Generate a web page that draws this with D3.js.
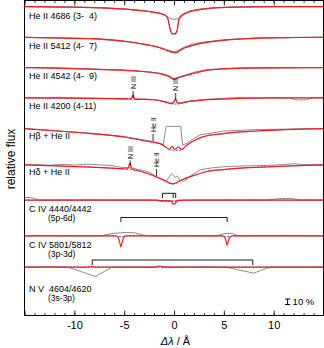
<!DOCTYPE html>
<html>
<head>
<meta charset="utf-8">
<script src="https://cdn.jsdelivr.net/npm/d3@7"></script>
<style>
  body { margin: 0; background: #fff; }
  svg text { font-family: "Liberation Sans", Arial, sans-serif; fill: #000; }
</style>
</head>
<body>
<svg id="chart" width="324" height="348"></svg>
<script>
// x ticks (delta lambda in Angstrom)
const majorTicks = [-15, -10, -5, 0, 5, 10, 15];
const minorTicks = d3.range(-15, 16, 1);

// row labels, top to bottom
const rowLabels = ["He II 4686 (3-  4)", "He II 5412 (4-  7)", "He II 4542 (4-  9)", "He II 4200 (4-11)",
  "H\u03b2 + He II", "H\u03b4 + He II", "C IV 4440/4442", "C IV 5801/5812", "N V  4604/4620"];
const rowSubLabels = ["", "", "", "", "", "", "(5p-6d)", "(3p-3d)", "(3s-3p)"];
// vertical shift of each spectrum (in flux units)
const rowOffsets = [4.62, 4.06, 3.51, 2.96, 2.40, 1.74, 1.10, 0.45, -0.12];

// observed (grey), model (red), second model (blue dashed) -- [dlambda, relative flux]
const obs1 = [[-15,1],[-11,0.992],[-8,0.985],[-5,0.96],[-2.4,0.91],[-1.2,0.87],[-0.7,0.82],[-0.4,0.785],[0,0.765],[0.5,0.78],[1.0,0.85],[1.5,0.92],[2.6,0.955],[4,0.98],[7,0.995],[10,1.0],[15,1]];
const fit1 = [[-15,1],[-11,0.99],[-8.4,0.982],[-5.4,0.958],[-2.4,0.905],[-1.3,0.87],[-0.9,0.845],[-0.6,0.77],[-0.4,0.6],[-0.25,0.52],[0,0.505],[0.2,0.52],[0.35,0.6],[0.5,0.77],[0.8,0.845],[1.6,0.905],[3.6,0.967],[6.6,0.99],[10,0.998],[15,1]];
const alt1 = [[-15,1],[-11,0.99],[-8.4,0.982],[-5.4,0.958],[-2.4,0.905],[-1.3,0.87],[-0.9,0.845],[-0.6,0.76],[-0.4,0.58],[-0.25,0.5],[0,0.49],[0.2,0.5],[0.35,0.58],[0.5,0.76],[0.8,0.845],[1.6,0.905],[3.6,0.967],[6.6,0.99],[10,0.998],[15,1]];

const obs2 = [[-15,1],[-12,0.99],[-8.4,0.978],[-4.4,0.915],[-1.7,0.83],[-0.8,0.78],[-0.3,0.75],[0.2,0.745],[0.9,0.81],[1.7,0.87],[2.6,0.905],[4.9,0.955],[8.6,0.99],[15,1]];
const fit2 = [[-15,1],[-12,0.99],[-8.4,0.976],[-6,0.95],[-4.4,0.915],[-3,0.875],[-1.7,0.824],[-0.8,0.77],[-0.2,0.733],[0.1,0.722],[0.5,0.75],[0.9,0.795],[1.7,0.845],[2.6,0.885],[4.9,0.945],[8.6,0.987],[12,0.997],[15,1]];
const alt2 = [[-15,1],[-12,0.99],[-8.4,0.976],[-6,0.95],[-4.4,0.915],[-3,0.875],[-1.7,0.824],[-0.8,0.765],[-0.4,0.728],[0,0.72],[0.4,0.728],[0.9,0.79],[1.7,0.845],[2.6,0.885],[4.9,0.945],[8.6,0.987],[12,0.997],[15,1]];

const obs3 = [[-15,1],[-12,0.995],[-8.3,0.975],[-4,0.945],[-1.4,0.895],[-0.5,0.845],[0,0.8],[0.5,0.83],[1.3,0.875],[2.2,0.925],[3.3,0.96],[5,0.98],[7,0.995],[15,1]];
const fit3 = [[-15,1],[-12,0.99],[-8.3,0.97],[-4,0.94],[-1.4,0.89],[-0.5,0.84],[0,0.787],[0.5,0.82],[1.3,0.86],[2.2,0.905],[3.3,0.95],[5,0.975],[7,0.99],[15,1]];
const alt3 = [[-15,1],[-12,0.99],[-8.3,0.97],[-4,0.94],[-1.4,0.89],[-0.5,0.835],[0,0.78],[0.5,0.815],[1.3,0.86],[2.2,0.905],[3.3,0.95],[5,0.975],[7,0.99],[15,1]];

const obs4 = [[-15,1.005],[-13,0.995],[-11.5,1.01],[-10,0.995],[-8,0.99],[-6,0.985],[-4.3,0.98],[-4.1,1.02],[-3.9,0.98],[-2,0.97],[-0.8,0.925],[-0.3,0.9],[0.15,0.96],[0.5,0.905],[1.3,0.935],[3,0.97],[5,0.99],[6.5,1.005],[8,0.995],[10,1.0],[11.6,0.995],[12.4,0.96],[13.3,0.965],[14,1.0],[15,1]];
const fit4 = [[-15,1],[-11,0.995],[-8,0.99],[-5,0.98],[-4.3,0.978],[-4.12,1.05],[-3.95,0.976],[-2,0.965],[-0.8,0.92],[-0.3,0.895],[-0.05,0.905],[0.15,0.985],[0.35,0.905],[0.6,0.9],[1.3,0.925],[3,0.96],[6,0.985],[10,0.997],[15,1]];
const alt4 = [[-15,1],[-11,0.995],[-8,0.99],[-5,0.98],[-2,0.965],[-0.8,0.92],[-0.3,0.89],[0.15,0.885],[0.6,0.89],[1.3,0.925],[3,0.96],[6,0.985],[10,0.997],[15,1]];

const obs5 = [[-15,1],[-11.7,0.958],[-8.3,0.915],[-5,0.855],[-2.3,0.77],[-1.35,0.72],[-1.07,0.70],[-0.8,1.04],[0.67,1.04],[0.87,0.70],[1.3,0.735],[2,0.82],[2.6,0.885],[5,0.955],[8.3,0.982],[15,1]];
const fit5 = [[-15,1],[-11.7,0.956],[-8.3,0.909],[-5,0.847],[-2.3,0.756],[-1.4,0.727],[-0.8,0.66],[-0.45,0.622],[-0.2,0.675],[0.1,0.622],[0.43,0.665],[0.77,0.622],[1.3,0.7],[2,0.78],[2.8,0.845],[5,0.91],[8.3,0.956],[15,1]];
const alt5 = [[-15,1],[-11.7,0.956],[-8.3,0.909],[-5,0.847],[-2.3,0.756],[-1.4,0.727],[-0.8,0.66],[-0.45,0.615],[0,0.605],[0.45,0.605],[0.8,0.615],[1.3,0.7],[2,0.78],[2.8,0.845],[5,0.91],[8.3,0.956],[15,1]];

const obs6 = [[-15,1],[-14,1.005],[-12.5,0.995],[-11,1.01],[-10,0.995],[-8.7,1.012],[-7.5,1.0],[-6.3,0.99],[-5.3,0.955],[-4.4,0.95],[-3,0.895],[-2.3,0.85],[-1.7,0.78],[-0.8,0.70],[-0.25,0.84],[0.1,0.77],[0.3,0.8],[0.6,0.72],[1.0,0.70],[1.6,0.79],[2.6,0.91],[4,0.95],[5.3,0.97],[8,0.985],[10,0.995],[12,1.02],[13,1.005],[15,1]];
const fit6 = [[-15,1],[-11.7,0.98],[-8.3,0.96],[-5.3,0.93],[-4.65,0.925],[-4.42,1.03],[-4.2,0.92],[-3.3,0.88],[-2.3,0.82],[-1.0,0.72],[-0.1,0.655],[0.7,0.72],[1.7,0.79],[3.3,0.88],[5,0.915],[6.7,0.94],[11.7,0.98],[15,1]];
const alt6 = [[-15,1],[-11.7,0.98],[-8.3,0.96],[-5.3,0.93],[-4.4,0.922],[-3.3,0.88],[-2.3,0.82],[-1.0,0.72],[-0.1,0.65],[0.7,0.72],[1.7,0.79],[3.3,0.88],[5,0.915],[6.7,0.94],[11.7,0.98],[15,1]];

const obs7 = [[-15,1.05],[-14.2,1.04],[-13.6,1.0],[-10,1.0],[-5,1.0],[-1.5,0.995],[0,0.985],[1.5,0.995],[5,1.0],[9.3,1.0],[10.5,1.025],[11.8,1.03],[12.5,1.0],[15,1]];
const fit7 = [[-15,1],[-2,1],[-1.3,0.99],[-0.6,0.985],[-0.3,0.985],[-0.1,0.93],[0.1,0.93],[0.3,0.99],[1,1],[15,1]];
const alt7 = [[-15,1],[-1.8,1],[-1.4,0.975],[0.2,0.975],[0.5,1],[15,1]];

const obs8 = [[-15,1],[-13,1.003],[-10,0.997],[-7.3,1.0],[-6.3,1.04],[-5,1.06],[-4,1.055],[-3,1.01],[-2.5,1.0],[0,0.998],[4.3,1.0],[5,1.04],[5.8,1.045],[6.5,1.0],[10,1.003],[15,1]];
const fit8 = [[-15,1],[-5.85,1],[-5.6,0.97],[-5.45,0.88],[-5.33,0.8],[-5.2,0.88],[-5.05,0.97],[-4.8,1],[4.85,1],[5.1,0.97],[5.22,0.9],[5.33,0.83],[5.45,0.9],[5.6,0.97],[5.85,1],[15,1]];
const alt8 = [[-15,1],[-6,1],[-5.7,0.985],[-5.0,0.985],[-4.7,1],[4.9,1],[5.1,0.985],[5.7,0.985],[6.0,1],[15,1]];

const obs9 = [[-15,1],[-13,1.005],[-10.8,1.0],[-10.3,0.98],[-7.9,0.83],[-6.7,0.95],[-6.2,1.0],[-2,1.0],[-1.4,1.01],[0,0.997],[2,1.003],[5.2,1.0],[5.7,0.98],[8,0.89],[9.3,0.98],[9.8,1],[15,1]];
const fit9 = [[-15,1],[-8.7,1],[-8.3,1.012],[-7.9,1],[-1.9,1],[-1.45,1.02],[-1.0,1],[15,1]];
const alt9 = [[-15,1],[15,1]];

const observed = [obs1, obs2, obs3, obs4, obs5, obs6, obs7, obs8, obs9];
const models = [fit1, fit2, fit3, fit4, fit5, fit6, fit7, fit8, fit9];
const altModels = [alt1, alt2, alt3, alt4, alt5, alt6, alt7, alt8, alt9];

// line identifications: text, dlambda
const idTexts = ["N III", "N III", "He II", "N III", "He II"];
const idLambda = [-4.1, 0.17, -2.1, -4.4, -1.75];
// doublet brackets: leg positions in dlambda
const brackets = [[-1.15, -0.08, 0.17], [-5.33, 5.33], [-8.2, 7.9]];

// ---- layout ----
const svg = d3.select("#chart");
const x = d3.scaleLinear().domain([-15, 15]).range([24.5, 323.5]);
const y = d3.scaleLinear().domain([0, 5.73]).range([315.5, 0.5]);

const labelY = [19, 48.7, 78.7, 109, 138.7, 175.3, 211.5, 247.5, 292];
const subLabelY = [0, 0, 0, 0, 0, 0, 220.5, 256.5, 301];
const idBottom = [89, 91, 132, 159, 167];
const idDash = [[91, 98], [93, 99.5], [134, 141], [160.5, 166], [169, 176]];
const bracketY = [[193.3, 198], [217.5, 222], [260, 265]];

const plot = svg.append("g");
plot.append("clipPath").attr("id", "clip")
  .append("rect").attr("x", 24.5).attr("y", 0.5).attr("width", 299).attr("height", 315);

const lineFor = (off, curve) => d3.line()
  .x(d => x(d[0]))
  .y(d => y(d[1] + off))
  .curve(curve);

const spectra = plot.append("g").attr("clip-path", "url(#clip)");
observed.forEach((s, i) => {
  spectra.append("path").datum(s)
    .attr("d", lineFor(rowOffsets[i], d3.curveLinear))
    .attr("fill", "none").attr("stroke", "#6e6e6e").attr("stroke-width", 0.8);
});
altModels.forEach((s, i) => {
  spectra.append("path").datum(s)
    .attr("d", lineFor(rowOffsets[i], d3.curveMonotoneX))
    .attr("fill", "none").attr("stroke", "#4060ff").attr("stroke-width", 1)
    .attr("stroke-dasharray", "2,1.5");
});
models.forEach((s, i) => {
  spectra.append("path").datum(s)
    .attr("d", lineFor(rowOffsets[i], d3.curveMonotoneX))
    .attr("fill", "none").attr("stroke", "#ff1a1a").attr("stroke-width", 1.2);
});

// row labels
rowLabels.forEach((t, i) => {
  svg.append("text").attr("x", 29).attr("y", labelY[i])
    .attr("font-size", 9).style("white-space", "pre").text(t);
  if (rowSubLabels[i]) {
    svg.append("text").attr("x", 48).attr("y", subLabelY[i])
      .attr("font-size", 8.5).text(rowSubLabels[i]);
  }
});

// line identifications
idTexts.forEach((t, i) => {
  const xi = x(idLambda[i]);
  svg.append("text")
    .attr("transform", `translate(${xi},${idBottom[i]}) rotate(-90)`)
    .attr("dy", "0.35em").attr("font-size", 7).text(t);
  svg.append("line")
    .attr("x1", xi).attr("x2", xi).attr("y1", idDash[i][0]).attr("y2", idDash[i][1])
    .attr("stroke", "#000").attr("stroke-width", 0.8);
});

// brackets
brackets.forEach((b, i) => {
  const g = svg.append("g").attr("stroke", "#000").attr("stroke-width", 0.9).attr("fill", "none");
  g.append("line").attr("x1", x(d3.min(b))).attr("x2", x(d3.max(b)))
    .attr("y1", bracketY[i][0]).attr("y2", bracketY[i][0]);
  b.forEach(v => g.append("line").attr("x1", x(v)).attr("x2", x(v))
    .attr("y1", bracketY[i][0]).attr("y2", bracketY[i][1]));
});

// 10 % scale bar
const barX = x(11.4), barBottom = 304.5, barTop = barBottom - (y(0) - y(0.1));
const bar = svg.append("g").attr("stroke", "#000").attr("stroke-width", 1);
bar.append("line").attr("x1", barX).attr("x2", barX).attr("y1", barTop).attr("y2", barBottom);
bar.append("line").attr("x1", barX - 2.5).attr("x2", barX + 2.5).attr("y1", barTop).attr("y2", barTop);
bar.append("line").attr("x1", barX - 2.5).attr("x2", barX + 2.5).attr("y1", barBottom).attr("y2", barBottom);
svg.append("text").attr("x", barX + 5).attr("y", 305).attr("font-size", 9.5).text("10 %");

// axes, ticks pointing inward
const bottomMinor = svg.append("g").attr("transform", "translate(0,315.5)")
  .call(d3.axisBottom(x).tickValues(minorTicks).tickSize(-2.5).tickFormat(""));
const bottomMajor = svg.append("g").attr("transform", "translate(0,315.5)")
  .call(d3.axisBottom(x).tickValues(majorTicks).tickSize(-5).tickPadding(6).tickFormat(d => (d === -15 || d === 15) ? "" : String(d)));
const topMinor = svg.append("g").attr("transform", "translate(0,0.5)")
  .call(d3.axisTop(x).tickValues(minorTicks).tickSize(-2.5).tickFormat(""));
const topMajor = svg.append("g").attr("transform", "translate(0,0.5)")
  .call(d3.axisTop(x).tickValues(majorTicks).tickSize(-5).tickFormat(""));
[bottomMinor, bottomMajor, topMinor, topMajor].forEach(a => {
  a.select(".domain").remove();
  a.selectAll("line").attr("stroke", "#000").attr("stroke-width", 0.8);
});
bottomMajor.selectAll("text").attr("font-size", 11)
  .attr("font-family", "Liberation Sans, Arial, sans-serif");

// frame
svg.append("rect").attr("x", 24.5).attr("y", 0.5).attr("width", 299).attr("height", 315)
  .attr("fill", "none").attr("stroke", "#000").attr("stroke-width", 1);

// axis titles
svg.append("text").attr("transform", "translate(15,159) rotate(-90)")
  .attr("text-anchor", "middle").attr("font-size", 12).text("relative flux");
const xt = svg.append("text").attr("x", 175.5).attr("y", 345)
  .attr("text-anchor", "middle").attr("font-size", 11);
xt.append("tspan").attr("font-style", "italic").text("\u0394\u03bb");
xt.append("tspan").text(" / \u00c5");
</script>
</body>
</html>
